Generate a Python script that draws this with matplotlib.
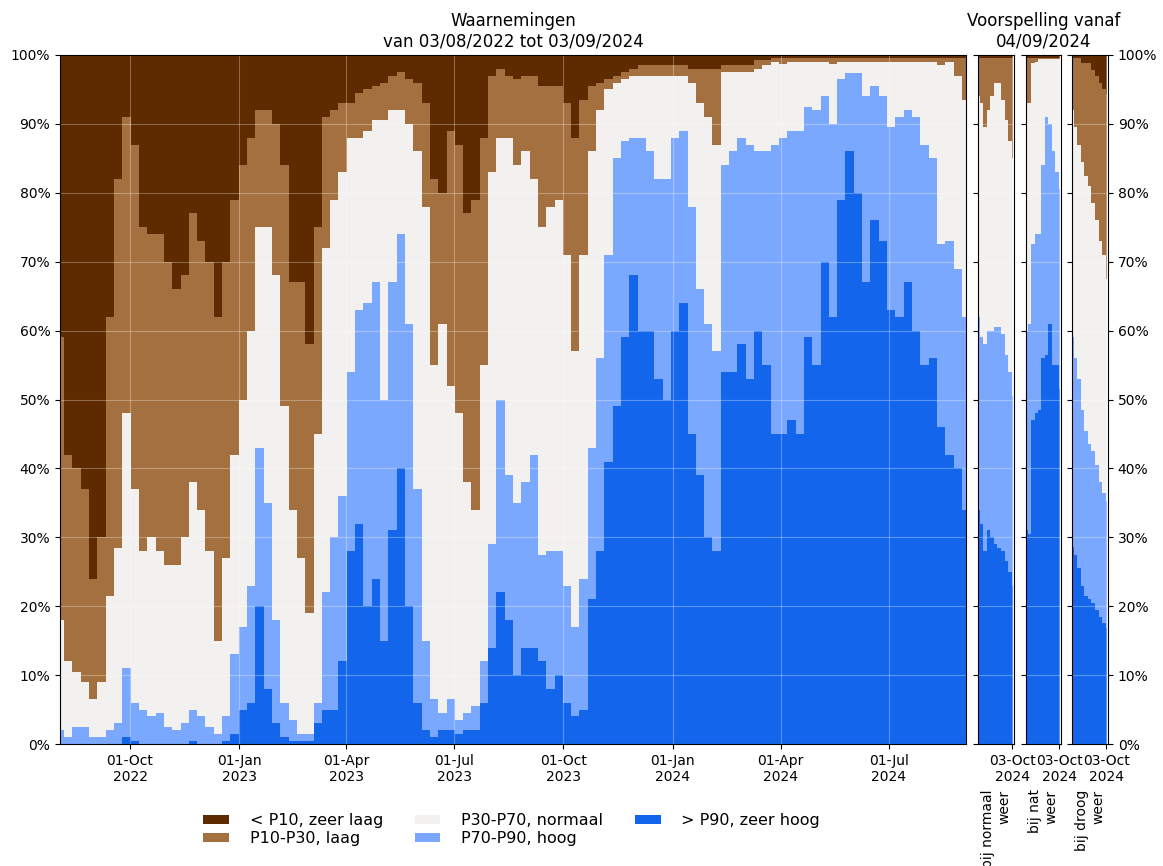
import numpy as np
import pandas as pd
import matplotlib
matplotlib.use('Agg')
import matplotlib.pyplot as plt
import matplotlib.dates as mdates
from matplotlib.ticker import PercentFormatter, MultipleLocator
from matplotlib.patches import Patch

# ---------------- data ----------------
# weekly readings of the observations (cumulative % of locations up to the top of each class)
obs_dates = pd.date_range('2022-08-03', periods=110, freq='7D')
obs_top_zeer_hoog = [0, 0, 0, 0, 0, 0, 0, 0, 1, 0.5,
                     0, 0, 0, 0, 0, 0, 0.5, 0, 0, 0,
                     0.5, 1.5, 5, 6, 20, 8, 3, 1, 0.5, 0.5,
                     0.5, 3, 5, 5, 12, 28, 32, 20, 24, 15,
                     31, 40, 20, 6, 2, 1, 2, 2, 1.5, 2,
                     2, 6, 14, 22, 18, 10, 14, 14, 12, 8,
                     10, 6, 4, 5, 21, 28, 41, 49, 59, 68,
                     60, 60, 53, 50, 60, 64, 45, 39, 30, 28,
                     54, 54, 58, 53, 60, 55, 45, 45, 47, 45,
                     59, 55, 70, 62, 79, 86, 80, 67, 76, 73,
                     63, 62, 67, 60, 55, 56, 46, 42, 40, 34]
obs_top_hoog = [2, 1, 2.5, 2.5, 1, 1, 2, 3, 11, 6,
                5, 4, 4.5, 2.5, 2, 3, 5, 4, 2.5, 1.5,
                4, 13, 17, 23, 43, 35, 18, 6, 3.5, 1.5,
                1.5, 6, 22, 30, 36, 54, 63, 64, 67, 50,
                67, 74, 61, 37, 15, 6.5, 4.5, 6.5, 3.5, 4.5,
                5.5, 12, 29, 50, 39, 35, 38, 42, 27.5, 28,
                28, 23, 17, 24, 43, 56, 71, 85, 87.5, 88,
                88, 86, 82, 82, 88, 89, 78, 66, 61, 57,
                84, 86, 88, 87, 86, 86, 87, 88, 89, 89,
                92.5, 92, 94, 90, 96.5, 97.4, 97.4, 94, 95.5, 94,
                89.5, 91, 92, 91, 87, 85, 72.5, 73, 69, 62]
obs_top_normaal = [18, 12, 10.5, 9, 6.5, 9, 21.5, 28.5, 48, 37,
                   28, 30, 28, 26, 26, 30, 38, 34, 28, 15,
                   27, 42, 50, 60, 75, 75, 68, 49, 34, 27,
                   19, 45, 72, 79, 83, 88, 88, 89, 90.5, 90.5,
                   92, 92, 90, 86, 78, 55, 61, 52, 48, 38,
                   34, 55, 83, 88, 88, 84, 86, 82, 75, 78,
                   79, 71, 57, 71, 86, 92, 95, 96, 96.5, 97,
                   97, 97, 97, 97, 97, 97, 96, 93, 91, 87,
                   97.5, 97.5, 97.5, 97.5, 98, 98.5, 99, 98.7, 99, 99,
                   99, 99, 99, 98.7, 99, 99, 99, 99, 99, 99,
                   99, 99, 99, 99, 99, 99, 98.5, 99, 97, 93.5]
obs_top_laag = [59, 42, 40, 37, 24, 30, 62, 82, 91, 87,
                75, 74, 74, 70, 66, 68, 77, 73, 70, 62,
                70, 79, 84, 88, 92, 92, 90, 84, 67, 67,
                58, 75, 91, 92, 93, 93, 94.5, 95, 95.5, 96,
                97, 97.5, 96.5, 96, 93, 82, 80, 89, 87, 77,
                79, 88, 97, 98, 97, 96.5, 97, 97, 95.5, 95.5,
                95.5, 93, 88, 93.5, 95.5, 96, 96.5, 97, 97.5, 98,
                98.5, 98.5, 98.5, 98.5, 98.5, 98.5, 98, 98, 98, 98,
                98.5, 98.5, 98.5, 98.5, 99.3, 99.3, 99.5, 99.5, 99.5, 99.5,
                99.5, 99.5, 99.5, 99.5, 99.5, 99.5, 99.5, 99.5, 99.5, 99.5,
                99.5, 99.5, 99.5, 99.5, 99.5, 99.5, 99.5, 99.5, 99.5, 99.5]

# forecast readings every 3 days from 04/09/2024
fc_dates = pd.date_range('2024-09-04', periods=11, freq='3D')
fc_normaal_top_zeer_hoog = [34, 32, 28, 31, 30, 29, 28.5, 28, 26.5, 25, 23]
fc_normaal_top_hoog = [62, 59, 58, 60, 60, 60.5, 60.5, 59.5, 56.5, 54, 50.5]
fc_normaal_top_normaal = [94, 93, 89.5, 92, 94, 96, 96, 93.5, 90.5, 87.5, 85]
fc_normaal_top_laag = [99.6] * 11

fc_nat_top_zeer_hoog = [31, 30.5, 47, 48, 48.5, 56, 56.5, 61, 55, 55, 51.5]
fc_nat_top_hoog = [60, 61, 72.5, 74, 74, 84, 91, 90, 86, 83, 80.5]
fc_nat_top_normaal = [93, 93, 98.8, 99, 99.4, 99.4, 99.4, 99.4, 99.4, 99.4, 99.4]
fc_nat_top_laag = [99.6] * 11

fc_droog_top_zeer_hoog = [28.6, 27.5, 25.5, 23, 21.5, 21, 20.5, 19.5, 18.5, 17.5, 16.8]
fc_droog_top_hoog = [59, 56, 53, 48.5, 45.5, 43.5, 42.5, 40.5, 38, 36.5, 35.2]
fc_droog_top_normaal = [92, 89.5, 87, 84.5, 82.5, 81, 78.5, 76, 73, 71, 67.5]
fc_droog_top_laag = [99.5, 99.5, 99.5, 98.8, 98.8, 98.8, 97.8, 97, 96, 95, 94.3]

class_labels = ['< P10, zeer laag', 'P10-P30, laag', 'P30-P70, normaal',
                'P70-P90, hoog', '> P90, zeer hoog']
class_colors = ['#5E2A00', '#A5703F', '#F2F1F0', '#7BA8FF', '#1366EC']
scenario_labels = ['bij normaal\nweer', 'bij nat\nweer', 'bij droog\nweer']

# ---------------- plot ----------------
W, H = 1163, 866
plt.rcParams['font.family'] = ['DejaVu Sans']
fig = plt.figure(figsize=(W / 100, H / 100), dpi=100)


def fig_rect(x0, x1, y_top, y_bot):
    return [x0 / W, (H - y_bot) / H, (x1 - x0) / W, (y_bot - y_top) / H]


def draw_stack(ax, dates, tops):
    x = mdates.date2num(dates)
    full = np.full(len(x), 100.0)
    # tops given bottom->top (zeer hoog, hoog, normaal, laag); paint from the top class down
    layers = [full] + [np.asarray(t, dtype=float) for t in tops[::-1]]
    for top, color in zip(layers, class_colors):
        ax.fill_between(x, 0, top, step='mid', color=color, lw=0)
    ax.set_ylim(0, 100)
    ax.yaxis.set_major_locator(MultipleLocator(10))
    ax.yaxis.set_major_formatter(PercentFormatter(decimals=0))
    ax.grid(True, color='white', alpha=0.3, lw=0.8)
    ax.tick_params(labelsize=10)


ax_main = fig.add_axes(fig_rect(60, 966, 55, 744))
draw_stack(ax_main, obs_dates,
           [obs_top_zeer_hoog, obs_top_hoog, obs_top_normaal, obs_top_laag])
ax_main.set_xlim(mdates.date2num(pd.Timestamp('2022-08-03')),
                 mdates.date2num(pd.Timestamp('2024-09-04')))
ax_main.xaxis.set_major_locator(mdates.MonthLocator(bymonth=[1, 4, 7, 10]))
ax_main.xaxis.set_major_formatter(mdates.DateFormatter('%d-%b\n%Y'))
ax_main.set_title('Waarnemingen\nvan 03/08/2022 tot 03/09/2024', fontsize=12)

fc_sets = [
    [fc_normaal_top_zeer_hoog, fc_normaal_top_hoog, fc_normaal_top_normaal, fc_normaal_top_laag],
    [fc_nat_top_zeer_hoog, fc_nat_top_hoog, fc_nat_top_normaal, fc_nat_top_laag],
    [fc_droog_top_zeer_hoog, fc_droog_top_hoog, fc_droog_top_normaal, fc_droog_top_laag],
]
panel_x = [(978, 1014), (1026, 1061), (1072, 1108)]
for i, (tops, (x0, x1), lab) in enumerate(zip(fc_sets, panel_x, scenario_labels)):
    ax = fig.add_axes(fig_rect(x0, x1, 55, 744))
    draw_stack(ax, fc_dates, tops)
    ax.set_xlim(mdates.date2num(pd.Timestamp('2024-09-04')),
                mdates.date2num(pd.Timestamp('2024-10-04 12:00')))
    ax.set_xticks([mdates.date2num(pd.Timestamp('2024-10-03'))])
    ax.xaxis.set_major_formatter(mdates.DateFormatter('%d-%b\n%Y'))
    ax.set_xlabel(lab, rotation=90, fontsize=10, multialignment='right', va='top')
    if i == 2:
        ax.tick_params(axis='y', left=True, right=True, labelleft=False, labelright=True)
    else:
        ax.tick_params(axis='y', left=True, right=False, labelleft=False)
    if i == 1:
        ax.set_title('Voorspelling vanaf\n04/09/2024', fontsize=12)

handles = [Patch(facecolor=c, edgecolor='none', label=l)
           for c, l in zip(class_colors, class_labels)]
fig.legend(handles=handles, loc='upper center', bbox_to_anchor=(0.44, 0.0775),
           ncol=3, frameon=False, fontsize=11.5, handlelength=1.6, handleheight=0.5,
           handletextpad=1.3, columnspacing=2.0, labelspacing=0.2)

fig.savefig('out.png', dpi=100)
